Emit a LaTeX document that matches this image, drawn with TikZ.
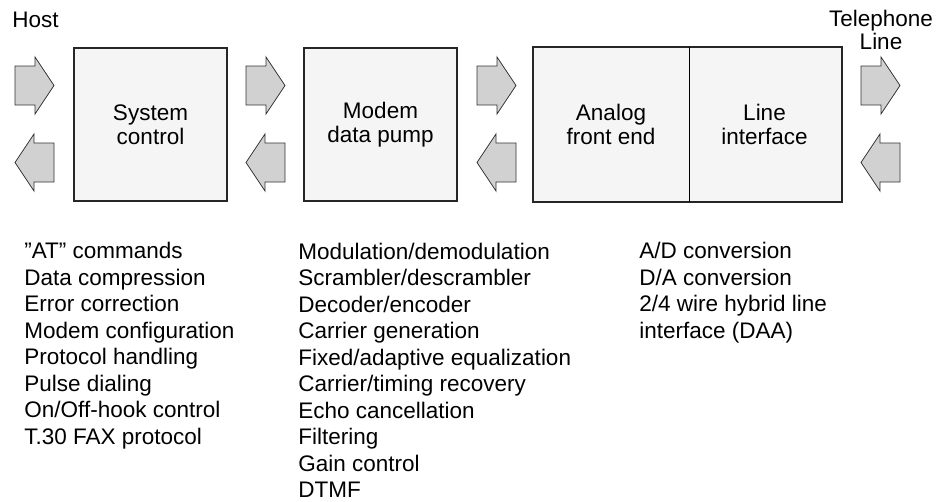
\documentclass[tikz,border=0pt]{standalone}
\usepackage{fontspec}
\setmainfont{Liberation Sans}
\usepackage{xcolor}

\begin{document}
\begin{tikzpicture}[x=1pt,y=-1pt,
					%>=stealth',
					thick,
					block node/.style={rectangle,draw=black!85,line width=2pt,fill=black!4,
					                   minimum width=153pt,minimum height=153pt,
					                   align=center,font=\fontsize{22.5}{24}\selectfont},
					list node/.style={anchor=base west,align=left,inner sep=0pt,
					                  font=\fontsize{22.5}{26.5}\selectfont},
					flow arrow/.pic={\draw[draw=black!80,line width=0.8pt,fill=black!18]
					  (-19.5,-19.5) -- (0.5,-19.5) -- (0.5,-28.5) -- (19.5,0)
					  -- (0.5,28.5) -- (0.5,19.5) -- (-19.5,19.5) -- cycle;}]

  \useasboundingbox (0,0) rectangle (944,501);

  \node[block node] (sys) at (150.5,124.5) {System\\control};
  \node[block node] (pump) at (380.5,124.5) {Modem\\data pump};
  \node[block node,draw=none,minimum width=154pt] (afe) at (611,124.5) {Analog\\front end};
  \node[block node,draw=none] (line) at (764.5,124.5) {Line\\interface};
  \draw[line width=2pt,draw=black!85] (afe.north west) rectangle (line.south east);
  \draw[line width=0.8pt] (afe.north east) -- (afe.south east);

  \foreach \x in {34.5,265.5,496.5,880.5}{
    \pic at (\x,85.5) {flow arrow};
    \pic[rotate=180] at (\x,162.5) {flow arrow};
  }

  % base anchor of a multi-line node sits on its last line
  \node[list node] (host) at (12,27.7) {Host};
  \node[list node,align=center,anchor=base,font=\fontsize{22.5}{22.6}\selectfont] (tel) at (881,49.3) {Telephone\\Line};

  \node[list node] (sysjobs) at (24,444) {”AT” commands\\Data compression\\Error correction\\Modem configuration\\Protocol handling\\Pulse dialing\\On/Off-hook control\\T.30 FAX protocol};
  \node[list node] (pumpjobs) at (298,497.5) {Modulation/demodulation\\Scrambler/descrambler\\Decoder/encoder\\Carrier generation\\Fixed/adaptive equalization\\Carrier/timing recovery\\Echo cancellation\\Filtering\\Gain control\\DTMF};
  \node[list node] (linejobs) at (639,338) {A/D conversion\\D/A conversion\\2/4 wire hybrid line\\interface (DAA)};
\end{tikzpicture}
\end{document}
